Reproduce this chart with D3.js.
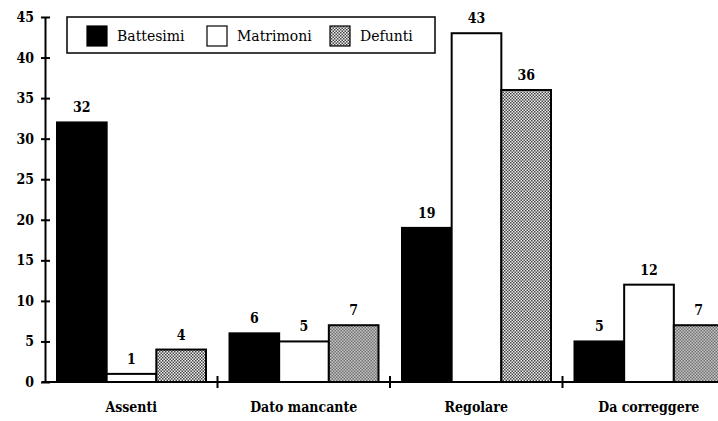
<!DOCTYPE html>
<html>
<head>
<meta charset="utf-8">
<script src="https://cdn.jsdelivr.net/npm/d3@7"></script>
<style>
  html, body { margin: 0; padding: 0; background: #fff; }
  svg { display: block; font-family: "DejaVu Serif", serif; }
</style>
</head>
<body>
<svg id="chart"></svg>
<script>
const categories = ["Assenti", "Dato mancante", "Regolare", "Da correggere"];
const seriesNames = ["Battesimi", "Matrimoni", "Defunti"];
const battesimi = [32, 6, 19, 5];
const matrimoni = [1, 5, 43, 12];
const defunti = [4, 7, 36, 7];
const yTicks = [0, 5, 10, 15, 20, 25, 30, 35, 40, 45];

const width = 718, height = 421;
const margin = { top: 17, left: 45, bottom: 39 };
const serif = "DejaVu Serif, serif";
const serifNarrow = "DejaVu Serif Condensed, DejaVu Serif, serif";

const svg = d3.select("#chart")
    .attr("width", width)
    .attr("height", height)
    .attr("viewBox", [0, 0, width, height]);

// dotted fill for Defunti
const pat = svg.append("defs").append("pattern")
    .attr("id", "dots")
    .attr("patternUnits", "userSpaceOnUse")
    .attr("width", 3).attr("height", 3);
pat.append("rect").attr("width", 3).attr("height", 3).attr("fill", "#f0f0f0");
pat.append("rect").attr("x", 0).attr("y", 0).attr("width", 1.5).attr("height", 1.5).attr("fill", "#444");
pat.append("rect").attr("x", 1.5).attr("y", 1.5).attr("width", 1.5).attr("height", 1.5).attr("fill", "#444");

const fills = { Battesimi: "#000", Matrimoni: "#fff", Defunti: "url(#dots)" };

const data = categories.map((c, i) => ({
    name: c,
    Battesimi: battesimi[i],
    Matrimoni: matrimoni[i],
    Defunti: defunti[i]
}));

// scales
const x0 = d3.scaleBand()
    .domain(categories)
    .range([margin.left, 735])
    .padding(0);

const x1 = d3.scaleBand()
    .domain(seriesNames)
    .range([12, 161])
    .padding(0);

const y = d3.scaleLinear()
    .domain([0, 45])
    .range([height - margin.bottom, margin.top]);

// bars
const groups = svg.append("g")
  .selectAll("g")
  .data(data)
  .join("g")
    .attr("transform", d => `translate(${x0(d.name)},0)`);

groups.selectAll("rect")
  .data(d => seriesNames.map(k => ({ key: k, value: d[k] })))
  .join("rect")
    .attr("x", d => x1(d.key))
    .attr("y", d => y(d.value))
    .attr("width", x1.bandwidth())
    .attr("height", d => y(0) - y(d.value))
    .attr("fill", d => fills[d.key])
    .attr("stroke", "#000")
    .attr("stroke-width", 2);

// value labels
groups.selectAll("text")
  .data(d => seriesNames.map(k => ({ key: k, value: d[k] })))
  .join("text")
    .attr("x", d => x1(d.key) + x1.bandwidth() / 2)
    .attr("y", d => y(d.value) - 10)
    .attr("text-anchor", "middle")
    .attr("font-family", serifNarrow)
    .attr("font-size", 14)
    .attr("font-weight", "bold")
    .text(d => d.value);

// y axis
svg.append("g")
    .attr("transform", `translate(${margin.left},0)`)
    .call(d3.axisLeft(y).tickValues(yTicks).tickSize(4).tickPadding(7).tickSizeOuter(0))
    .call(g => g.select(".domain").attr("stroke-width", 2))
    .call(g => g.selectAll(".tick line").attr("x1", -4).attr("x2", 5).attr("stroke-width", 2))
    .call(g => g.selectAll(".tick text")
        .attr("font-family", serifNarrow)
        .attr("font-size", 14)
        .attr("font-weight", "bold")
        .attr("fill", "#000"));

// x axis
const xAxis = svg.append("g")
    .attr("transform", `translate(0,${y(0)})`)
    .call(d3.axisBottom(x0).tickSize(0).tickPadding(20).tickSizeOuter(0))
    .call(g => g.select(".domain").remove())
    .call(g => g.selectAll(".tick text")
        .attr("font-family", serifNarrow)
        .attr("font-size", 14)
        .attr("font-weight", "bold")
        .attr("fill", "#000"));

xAxis.append("line")
    .attr("x1", margin.left - 3).attr("x2", width)
    .attr("stroke", "#000").attr("stroke-width", 2);

xAxis.selectAll(".sep")
  .data(categories.slice(1))
  .join("line")
    .attr("class", "sep")
    .attr("x1", d => x0(d)).attr("x2", d => x0(d))
    .attr("y1", -6).attr("y2", 6)
    .attr("stroke", "#000").attr("stroke-width", 2);

// legend
const legend = svg.append("g").attr("transform", "translate(67,17)");
legend.append("rect")
    .attr("width", 368).attr("height", 36)
    .attr("fill", "#fff").attr("stroke", "#000").attr("stroke-width", 1.5);

const legendX = [20, 140, 263];
seriesNames.forEach((s, i) => {
    legend.append("rect")
        .attr("x", legendX[i]).attr("y", 9)
        .attr("width", 20).attr("height", 20)
        .attr("fill", fills[s])
        .attr("stroke", "#000").attr("stroke-width", 1.2);
    legend.append("text")
        .attr("x", legendX[i] + 30).attr("y", 24)
        .attr("font-family", serif)
        .attr("font-size", 14)
        .text(s);
});
</script>
</body>
</html>
